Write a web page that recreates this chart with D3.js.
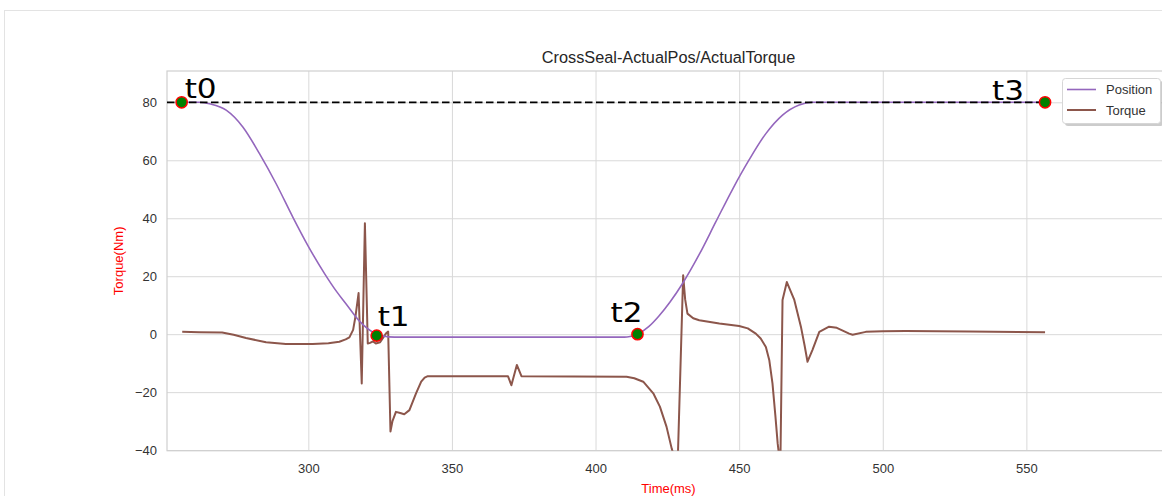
<!DOCTYPE html>
<html>
<head>
<meta charset="utf-8">
<script src="https://cdn.jsdelivr.net/npm/d3@7"></script>
<style>
	body { margin: 0; background: #fff; }
	text { font-family: "Liberation Sans", Arial, sans-serif; }
	.grid line { stroke: #d9d9d9; stroke-width: 1; }
	.tick text { fill: #333; font-size: 13px; }
	.hand { font-family: "DejaVu Sans", sans-serif; font-size: 27px; fill: #000; }
</style>
</head>
<body>
<div id="chart"></div>
<script>
// chart values
var xTicks = [300, 350, 400, 450, 500, 550];
var yTicks = [-40, -20, 0, 20, 40, 60, 80];

var posTime = [255.9, 262, 266, 271.4, 277.2, 283, 288.8, 294.6, 300, 305.6, 310, 313.1, 317.8, 322.3, 326, 330,
	410, 412, 414.6, 418.5, 422, 426, 430.3, 436.1, 441.9, 447.7, 453.5, 459.3, 465.1, 470.9, 475.5, 480, 557];
var posValue = [80, 80, 79.4, 77.3, 71.5, 62.3, 51.9, 40.4, 30.3, 21, 14.5, 10.5, 4.5, 0.8, -0.6, -1,
	-1, -0.8, 0, 2.6, 6.2, 11.2, 17.5, 27.5, 38.8, 50, 60.2, 69.2, 75.6, 79.1, 80, 80, 80];

var torqueTime = [256.1, 262, 270, 274, 278.3, 285.3, 292.2, 301.5, 307, 310.8, 313, 314.3, 315.6, 316.4, 317.5, 318.6,
	319.7, 320.7, 321.5, 322.5, 323.5, 325, 327, 327.8, 328.6, 329.3, 330.5, 332, 333.4, 335.2, 337.5, 339.3, 340.5, 341.6,
	369.5, 370.7, 372.6, 374.2, 410.8, 413.5, 416.6, 420.1, 422.4, 424.7, 426.5, 427, 428.7, 430.5, 431.2, 432, 434, 436.1,
	443.1, 450, 453, 455.8, 457.5, 459.3, 460.5, 461.6, 462.6, 463.4, 463.8, 464.4, 465.1, 466.6, 469.2, 471.5, 472.8,
	473.8, 475.5, 477.9, 481.3, 484, 488.3, 489.5, 494.1, 500, 508, 530, 556.5];
var torqueValue = [0.8, 0.7, 0.6, -0.2, -1.3, -2.8, -3.4, -3.4, -3.1, -2.6, -1.8, -1.1, 1.5, 6, 14.2, -17,
	38.3, -3.2, -3.0, -2.5, -3.2, -2.8, 0.2, 0.9, -33.6, -30, -26.8, -27.2, -27.6, -26.2, -20.4, -16.4, -15, -14.5,
	-14.5, -17.6, -10.6, -14.5, -14.7, -15.2, -16.4, -20.4, -25, -31.9, -39.4, -41, -41, 20.3, 12, 7.1, 5.5, 4.8,
	3.7, 2.8, 2, 0.2, -1.5, -4.4, -9, -17, -28, -37.6, -41, -41, 11.8, 18, 11.8, 2.6, -4,
	-9.5, -5.5, 0.8, 2.6, 2.2, 0.2, -0.2, 0.8, 1.0, 1.1, 0.9, 0.7];

var markTime = [255.9, 323.8, 414.6, 556.5];
var markValue = [80, -0.5, 0, 80];
var markLabels = ['t0', 't1', 't2', 't3'];
var refLevel = 80;

var seriesNames = ['Position', 'Torque'];
var seriesColors = ['#9467bd', '#8c564b'];

var cfg = {
	w: 1162,
	h: 496,
	left: 167,
	top: 71,
	right: 1170,
	bottom: 450.7
};

var width = cfg.right - cfg.left,
	height = cfg.bottom - cfg.top;

var svg = d3.select('#chart').append('svg')
	.attr('width', cfg.w)
	.attr('height', cfg.h);

// outer figure frame
svg.append('rect')
	.attr('x', 4.5).attr('y', 10.5)
	.attr('width', 1200).attr('height', 600)
	.attr('fill', '#fff')
	.attr('stroke', '#e3e3e3');

var x = d3.scaleLinear().domain([250.8, 600]).range([0, width]);
var y = d3.scaleLinear().domain([-40.2, 90.8]).range([height, 0]);

var g = svg.append('g')
	.attr('transform', 'translate(' + cfg.left + ',' + cfg.top + ')');

g.append('clipPath').attr('id', 'plotclip')
	.append('rect').attr('width', width).attr('height', height);

// grid + axes
g.append('g')
	.classed('grid', true)
	.attr('transform', 'translate(0,' + height + ')')
	.call(customXAxis);

g.append('g')
	.classed('grid', true)
	.call(customYAxis);

function customXAxis(sel) {
	sel.call(d3.axisBottom(x).tickValues(xTicks).tickSize(-height).tickPadding(13));
	sel.select('.domain').remove();
}

function customYAxis(sel) {
	sel.call(d3.axisLeft(y).tickValues(yTicks).tickSize(-width).tickPadding(10));
	sel.select('.domain').remove();
	sel.selectAll('.tick text').attr('dy', '0.34em');
}

// plot frame (light spines)
g.append('rect')
	.attr('width', width).attr('height', height)
	.attr('fill', 'none')
	.attr('stroke', '#cfcfcf')
	.attr('stroke-width', 1.2);

var plot = g.append('g').attr('clip-path', 'url(#plotclip)');

var posLine = d3.line()
	.curve(d3.curveMonotoneX)
	.x(function (d, i) { return x(posTime[i]); })
	.y(function (d) { return y(d); });

var torqueLine = d3.line()
	.x(function (d, i) { return x(torqueTime[i]); })
	.y(function (d) { return y(d); });

plot.append('path')
	.attr('d', torqueLine(torqueValue))
	.attr('fill', 'none')
	.attr('stroke', seriesColors[1])
	.attr('stroke-width', 2)
	.attr('stroke-linejoin', 'round');

plot.append('path')
	.attr('d', posLine(posValue))
	.attr('fill', 'none')
	.attr('stroke', seriesColors[0])
	.attr('stroke-width', 1.6);

// dashed reference line over the flat top of position
plot.append('line')
	.attr('x1', x(x.domain()[0]))
	.attr('x2', x(markTime[3]))
	.attr('y1', y(refLevel))
	.attr('y2', y(refLevel))
	.attr('stroke', '#000')
	.attr('stroke-width', 1.8)
	.attr('stroke-dasharray', '7.5,3.5');

// markers
g.selectAll('.mark')
	.data(markValue)
	.enter()
	.append('circle')
	.classed('mark', true)
	.attr('cx', function (d, i) { return x(markTime[i]); })
	.attr('cy', function (d) { return y(d); })
	.attr('r', 5.6)
	.attr('fill', '#008000')
	.attr('stroke', '#ff0000')
	.attr('stroke-width', 1.5);

// handwritten style labels
var labelOffset = [[3, -4], [1, -10], [-27, -12], [-53, -2]];
g.selectAll('.hand')
	.data(markLabels)
	.enter()
	.append('text')
	.classed('hand', true)
	.text(function (d) { return d; })
	.attr('x', function (d, i) { return x(markTime[i]) + labelOffset[i][0]; })
	.attr('y', function (d, i) { return y(markValue[i]) + labelOffset[i][1]; })
	.attr('textLength', 32)
	.attr('lengthAdjust', 'spacingAndGlyphs');

// title + axis labels
svg.append('text')
	.text('CrossSeal-ActualPos/ActualTorque')
	.attr('x', (cfg.left + cfg.right) / 2)
	.attr('y', 63)
	.attr('text-anchor', 'middle')
	.style('font-size', '16.3px')
	.style('fill', '#262626');

svg.append('text')
	.text('Time(ms)')
	.attr('x', (cfg.left + cfg.right) / 2)
	.attr('y', 493)
	.attr('text-anchor', 'middle')
	.style('font-size', '13px')
	.style('fill', '#ff0000');

svg.append('text')
	.text('Torque(Nm)')
	.attr('transform', 'translate(123,' + (cfg.top + height / 2) + ') rotate(-90)')
	.attr('text-anchor', 'middle')
	.style('font-size', '13px')
	.style('fill', '#ff0000');

// legend
var lg = svg.append('g').attr('transform', 'translate(1062,78)');
lg.append('rect')
	.attr('x', 3).attr('y', 3)
	.attr('width', 98).attr('height', 45)
	.attr('rx', 3)
	.attr('fill', '#9a9a9a')
	.attr('opacity', 0.5);
lg.append('rect')
	.attr('x', 0.5).attr('y', 0.5)
	.attr('width', 98).attr('height', 45)
	.attr('rx', 3)
	.attr('fill', '#fff')
	.attr('stroke', '#d6d6d6');

var item = lg.selectAll('.item')
	.data(seriesNames)
	.enter()
	.append('g')
	.classed('item', true)
	.attr('transform', function (d, i) { return 'translate(0,' + (11.5 + i * 20.5) + ')'; });
item.append('line')
	.attr('x1', 5).attr('x2', 34)
	.attr('stroke', function (d, i) { return seriesColors[i]; })
	.attr('stroke-width', function (d, i) { return i ? 2 : 1.6; });
item.append('text')
	.text(function (d) { return d; })
	.attr('x', 44)
	.attr('dy', '0.35em')
	.style('font-size', '13px')
	.style('fill', '#333');
</script>
</body>
</html>
